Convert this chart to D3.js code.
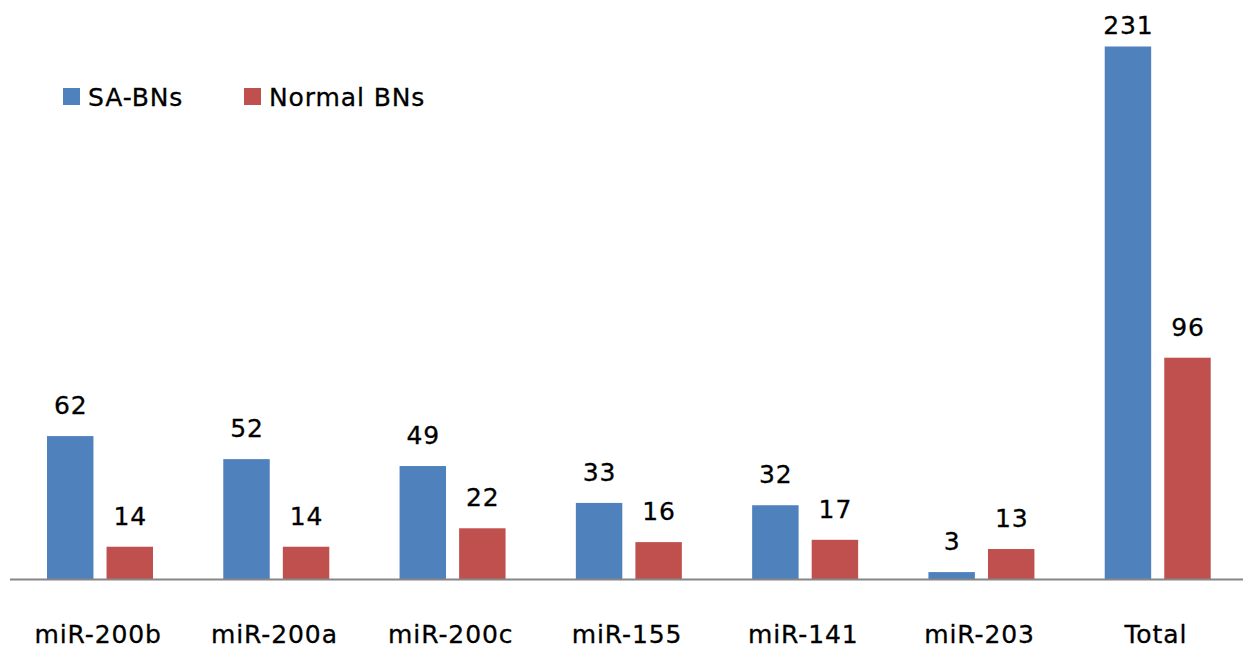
<!DOCTYPE html>
<html><head><meta charset="utf-8">
<script src="https://cdn.jsdelivr.net/npm/d3@7"></script>
<style>body{margin:0;background:#fff;}svg{display:block;}text{letter-spacing:0.9px;}</style>
</head><body>
<script>
const categories = ["miR-200b","miR-200a","miR-200c","miR-155","miR-141","miR-203","Total"];
const seriesNames = ["SA-BNs","Normal BNs"];
const saBNs = [62,52,49,33,32,3,231];
const normalBNs = [14,14,22,16,17,13,96];
const colors = ["#4F81BD","#C0504D"];

const W=1243,H=649;
const svg=d3.select("body").append("svg").attr("width",W).attr("height",H);
const font="'DejaVu Sans', Verdana, sans-serif";
const baseY=579;
const x=d3.scaleBand().domain(categories).range([12,1246]).paddingInner(0).paddingOuter(0);
const x1=d3.scaleBand().domain(seriesNames).range([35,141]).paddingInner(0.22);
const y=d3.scaleLinear().domain([0,231]).range([baseY,46.5]);

const data=categories.map((c,i)=>({c,vals:[saBNs[i],normalBNs[i]]}));
const g=svg.append("g");
data.forEach(d=>{
  d.vals.forEach((v,j)=>{
    const bx=x(d.c)+x1(seriesNames[j])*x.bandwidth()/176.3;
    g.append("rect").attr("x",bx).attr("y",y(v)).attr("width",x1.bandwidth()).attr("height",baseY-y(v)).attr("fill",colors[j]);
    g.append("text").attr("x",bx+x1.bandwidth()/2+0.5).attr("y",Math.max(y(v)-22,34))
      .attr("text-anchor","middle").attr("font-family",font).attr("font-size",25).attr("fill","#000")
      .attr("stroke","#000").attr("stroke-width",0.3).text(v);
  });
});
// axis
const axis=d3.axisBottom(x).tickSize(0).tickPadding(0);
const ax=svg.append("g").attr("transform",`translate(0,${baseY})`).call(axis);
ax.select(".domain").attr("d",`M10,0.5H1243`).attr("stroke","#868686").attr("stroke-width",2);
ax.selectAll(".tick text").attr("font-family",font).attr("font-size",25).attr("fill","#000")
  .attr("stroke","#000").attr("stroke-width",0.3).attr("dy",0).attr("y",64).attr("x",-2);

// legend
const leg=svg.append("g");
const legX=[63,244];
seriesNames.forEach((n,i)=>{
  leg.append("rect").attr("x",legX[i]).attr("y",88).attr("width",17).attr("height",17).attr("fill",colors[i]);
  leg.append("text").attr("x",legX[i]+25).attr("y",106).attr("font-family",font).attr("font-size",25).attr("fill","#000")
    .attr("stroke","#000").attr("stroke-width",0.3).text(n);
});
</script>
</body></html>
